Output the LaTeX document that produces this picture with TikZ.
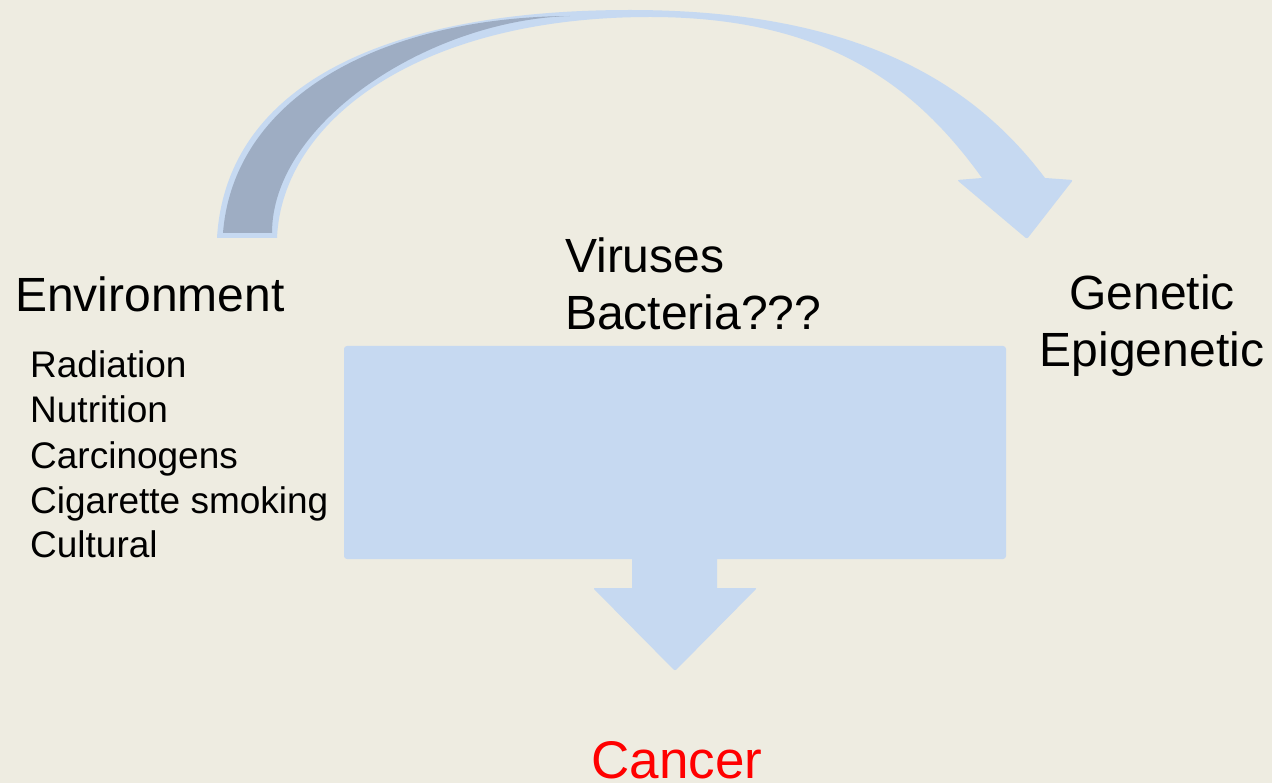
\documentclass[tikz,border=0pt]{standalone}
\usepackage{fontspec}
\setmainfont{Liberation Sans}
\definecolor{bgc}{HTML}{EEECE1}
\definecolor{lblue}{HTML}{C6D9F1}
\definecolor{dblue}{HTML}{9EADC3}
\definecolor{cred}{HTML}{FF0000}
\begin{document}
\begin{tikzpicture}[x=1pt,y=-1pt,
  big/.style={font=\fontsize{48}{57}\selectfont, inner sep=0pt, anchor=base west},
  bigc/.style={font=\fontsize{48}{57}\selectfont, inner sep=0pt, anchor=base},
  small/.style={font=\fontsize{37}{44}\selectfont, inner sep=0pt, anchor=base west},
  blockfill/.style={fill=lblue, draw=none},
  backfill/.style={fill=dblue, draw=none}]
\fill[bgc] (0,0) rectangle (1272,783);
\useasboundingbox (0,0) rectangle (1272,783);

% curved arrow (Environment -> Genetic)
\fill[blockfill] (217,238) .. controls (226,88) and (380,10) .. (630,10)
  .. controls (860,10) and (975,85) .. (1045,178)
  [rounded corners=2pt] -- (1073,180) -- (1027,239) -- (957,180) [sharp corners] -- (982,178)
  .. controls (918,89) and (830,17) .. (650,17)
  .. controls (420,17) and (282,120) .. (277,238) -- cycle;
\fill[backfill] (223,233) .. controls (234,95) and (385,17) .. (570,16)
  .. controls (430,20) and (272,122) .. (272,233) -- cycle;

% box
\node[blockfill, minimum width=662pt, minimum height=213pt, rounded corners=3pt, inner sep=0pt] (box) at (675,452.5) {};
% down arrow
\coordinate (tip) at (675,671);
\fill[blockfill] (632,556) -- (632,588) [rounded corners=2pt] -- (593,588) -- (tip) -- (757,588) [sharp corners] -- (717,588) -- (717,556) -- cycle;

% texts
\node[big] (env) at (15,312) {Environment};
\node[small] (rad) at (30,378) {Radiation};
\node[small] (nut) at (30,423) {Nutrition};
\node[small] (car) at (30,468) {Carcinogens};
\node[small] (cig) at (30,513) {Cigarette smoking};
\node[small] (cul) at (30,557) {Cultural};
\node[big] (vir) at (565,273) {Viruses};
\node[big] (bac) at (565,330) {Bacteria???};
\node[bigc] (gen) at (1152,310) {Genetic};
\node[bigc] (epi) at (1152,367) {Epigenetic};
\node[inner sep=0pt, anchor=base, font=\fontsize{53}{60}\selectfont, text=cred] (can) at (677,778) {Cancer};
\end{tikzpicture}
\end{document}
